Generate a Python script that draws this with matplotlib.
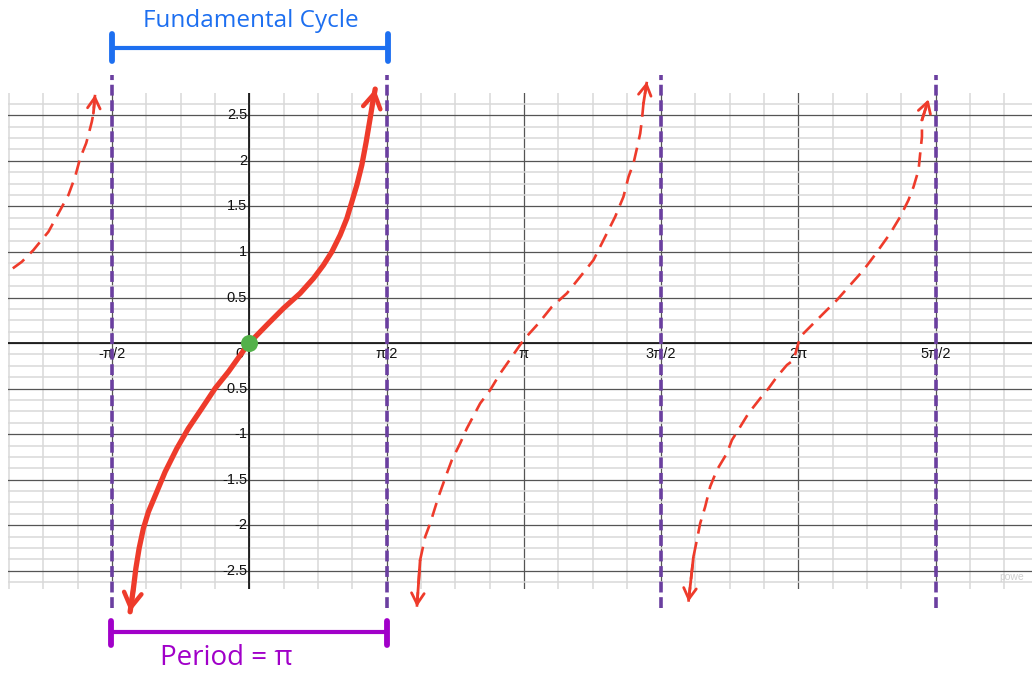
import numpy as np
import matplotlib
matplotlib.use('Agg')
import matplotlib.pyplot as plt
from matplotlib.ticker import MultipleLocator

PI = np.pi

# ---- tick labels ----
x_tick_vals = [-PI/2, PI/2, PI, 3*PI/2, 2*PI, 5*PI/2]
x_tick_labels = ['-π/2', 'π/2', 'π', '3π/2', '2π', '5π/2']
y_tick_vals = [-2.5, -2, -1.5, -1, -0.5, 0.5, 1, 1.5, 2, 2.5]
y_tick_labels = ['-2.5', '-2', '-1.5', '-1', '-0.5', '0.5', '1', '1.5', '2', '2.5']
asymptote_x = [-PI/2, PI/2, 3*PI/2, 5*PI/2]

# ---- hand-drawn fundamental cycle (solid) ----
main_x = [-1.363, -1.325, -1.297, -1.260, -1.211, -1.153, -1.057, -0.962, -0.828,
          -0.696, -0.542, -0.390, -0.238, -0.047, 0.0, 0.201, 0.391, 0.582, 0.735,
          0.849, 0.945, 1.040, 1.117, 1.174, 1.231, 1.288, 1.338, 1.383, 1.414, 1.441]
main_y = [-2.950, -2.693, -2.473, -2.254, -2.034, -1.852, -1.632, -1.413, -1.156,
          -0.936, -0.717, -0.497, -0.315, -0.058, 0.0, 0.198, 0.381, 0.546, 0.710,
          0.856, 1.002, 1.186, 1.369, 1.551, 1.734, 1.954, 2.210, 2.467, 2.649, 2.788]

# ---- hand-drawn dashed pieces ----
left_x = [-2.705, -2.602, -2.469, -2.392, -2.297, -2.183, -2.069, -1.992, -1.935,
          -1.866, -1.840, -1.801, -1.783, -1.764]
left_y = [0.820, 0.892, 1.021, 1.112, 1.222, 1.424, 1.625, 1.826, 2.028,
          2.193, 2.284, 2.430, 2.522, 2.725]

mid_x = [1.918, 1.955, 2.013, 2.070, 2.165, 2.261, 2.318, 2.413, 2.490, 2.642,
         2.756, 2.871, 3.005, 3.137, 3.309, 3.462, 3.634, 3.786, 3.938, 4.053,
         4.186, 4.281, 4.339, 4.396, 4.435, 4.473, 4.492, 4.510, 4.549]
mid_y = [-2.895, -2.382, -2.126, -1.979, -1.687, -1.430, -1.284, -1.101, -0.936, -0.662,
         -0.516, -0.333, -0.150, 0.033, 0.216, 0.398, 0.546, 0.728, 0.911, 1.131,
         1.386, 1.606, 1.825, 1.973, 2.137, 2.302, 2.448, 2.631, 2.868]

right_x = [5.025, 5.082, 5.121, 5.159, 5.216, 5.273, 5.350, 5.464, 5.522, 5.617,
           5.712, 5.846, 5.941, 6.037, 6.151, 6.227, 6.303, 6.417, 6.570, 6.723,
           6.875, 7.027, 7.142, 7.238, 7.333, 7.447, 7.542, 7.600, 7.657, 7.676,
           7.696, 7.696, 7.771]
right_y = [-2.840, -2.346, -2.162, -1.979, -1.797, -1.577, -1.394, -1.211, -1.065, -0.919,
           -0.771, -0.607, -0.497, -0.370, -0.241, -0.187, 0.069, 0.179, 0.326, 0.472,
           0.637, 0.801, 0.947, 1.076, 1.204, 1.386, 1.570, 1.716, 1.899, 2.082,
           2.265, 2.448, 2.675]

# ---- annotation brackets ----
cycle_span = [-1.568, 1.593]
cycle_y = 3.238
period_span = [-1.584, 1.574]
period_y = -3.176

RED = '#ee3b2b'
PURPLE_LINE = '#6b3fa0'
BLUE = '#1d6ff0'
MAGENTA = '#a100c9'
GREEN = '#53b14a'

fig = plt.figure(figsize=(10.32, 6.73), dpi=100)
W, H = 1032, 673
ax = fig.add_axes([8/W, (H-589)/H, 1024/W, 496/H])
ax.set_xlim(-2.76, 8.955)
ax.set_ylim(-2.70, 2.745)

ax.xaxis.set_major_locator(MultipleLocator(PI/2))
ax.xaxis.set_minor_locator(MultipleLocator(PI/8))
ax.yaxis.set_major_locator(MultipleLocator(0.5))
ax.yaxis.set_minor_locator(MultipleLocator(0.125))
ax.grid(which='minor', color='#d9d9d9', lw=1.1)
ax.grid(which='major', color='#555555', lw=0.9)
ax.set_axisbelow(True)
ax.tick_params(which='both', length=0, labelbottom=False, labelleft=False)
for s in ax.spines.values():
    s.set_visible(False)

ax.axhline(0, color='#1a1a1a', lw=1.3, zorder=1.5)
ax.axvline(0, color='#1a1a1a', lw=1.3, zorder=1.5)

font = ['Liberation Sans', 'DejaVu Sans']
for xv, lab in zip(x_tick_vals, x_tick_labels):
    ax.annotate(lab, xy=(xv, 0), xytext=(0, -3), textcoords='offset points',
                ha='center', va='top', fontsize=10.5, family=font, color='#111', zorder=3)
for yv, lab in zip(y_tick_vals, y_tick_labels):
    ax.annotate(lab, xy=(0, yv), xytext=(-1.5, 0), textcoords='offset points',
                ha='right', va='center', fontsize=10.5, family=font, color='#111', zorder=3)
ax.annotate('0', xy=(0, 0), xytext=(-4, -3), textcoords='offset points',
            ha='right', va='top', fontsize=10.5, family=font, color='#111', zorder=3)

# asymptotes
for xa in asymptote_x:
    ax.plot([xa, xa], [-2.91, 2.94], color=PURPLE_LINE, lw=2.6,
            dashes=(3.0, 1.3), clip_on=False, zorder=4)

# main solid curve
ax.plot(main_x, main_y, color=RED, lw=3.8, solid_capstyle='round',
        solid_joinstyle='round', clip_on=False, zorder=5)
arrow_main = dict(arrowstyle='->,head_length=0.75,head_width=0.45', color=RED,
                  lw=3.2, shrinkA=0, shrinkB=0, mutation_scale=14)
ax.annotate('', xy=(main_x[-1], main_y[-1]), xytext=(main_x[-2], main_y[-2]),
            arrowprops=arrow_main, annotation_clip=False, zorder=5)
ax.annotate('', xy=(main_x[0], main_y[0]), xytext=(main_x[1], main_y[1]),
            arrowprops=arrow_main, annotation_clip=False, zorder=5)

# dashed curves
arrow_thin = dict(arrowstyle='->,head_length=0.6,head_width=0.35', color=RED,
                  lw=2.0, shrinkA=0, shrinkB=0, mutation_scale=13)
for xs, ys, bottom_arrow in [(left_x, left_y, False), (mid_x, mid_y, True),
                             (right_x, right_y, True)]:
    ax.plot(xs, ys, color=RED, lw=1.9, dashes=(5.5, 3.2), clip_on=False, zorder=5)
    ax.annotate('', xy=(xs[-1], ys[-1]), xytext=(xs[-2], ys[-2]),
                arrowprops=arrow_thin, annotation_clip=False, zorder=5)
    if bottom_arrow:
        ax.annotate('', xy=(xs[0], ys[0]), xytext=(xs[1], ys[1]),
                    arrowprops=arrow_thin, annotation_clip=False, zorder=5)

# origin dot
ax.scatter([0], [0], s=150, color=GREEN, zorder=6, clip_on=False, linewidths=0)

# fundamental cycle bracket
ax.plot(cycle_span, [cycle_y, cycle_y], color=BLUE, lw=3.0, clip_on=False,
        solid_capstyle='round')
for xe in cycle_span:
    ax.plot([xe, xe], [cycle_y - 0.14, cycle_y + 0.15], color=BLUE, lw=4.2,
            clip_on=False, solid_capstyle='round')
ax.text(sum(cycle_span)/2, 3.53, 'Fundamental Cycle', color=BLUE, fontsize=17.5,
        ha='center', va='center', family=['Open Sans', 'DejaVu Sans'], clip_on=False)

# period bracket
ax.plot(period_span, [period_y, period_y], color=MAGENTA, lw=3.0, clip_on=False,
        solid_capstyle='round')
for xe in period_span:
    ax.plot([xe, xe], [period_y - 0.14, period_y + 0.12], color=MAGENTA, lw=4.2,
            clip_on=False, solid_capstyle='round')
ax.text(-0.26, -3.46, 'Period = π', color=MAGENTA, fontsize=20,
        ha='center', va='center', family=['Open Sans', 'DejaVu Sans'], clip_on=False)

# faint watermark
ax.text(8.58, -2.57, 'powe', color='#cfcfcf', fontsize=7.5, ha='left',
        va='center', family=font, clip_on=False)

fig.savefig('out.png', dpi=100)
